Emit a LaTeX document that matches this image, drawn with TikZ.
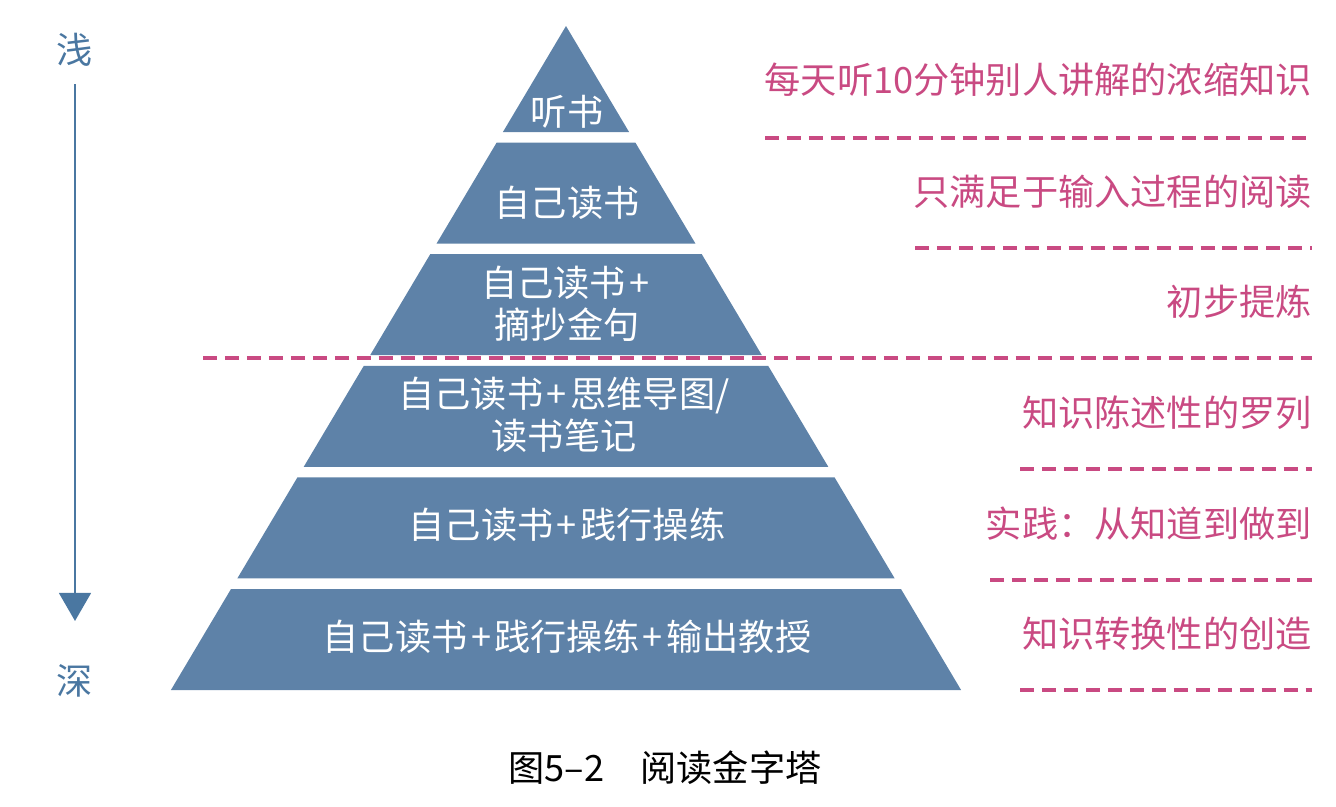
\documentclass[tikz,border=0pt]{standalone}
\usepackage{fontspec}
\setmainfont{Noto Sans CJK SC}
\usepackage{tikz}
\usetikzlibrary{arrows.meta}
\definecolor{pyrblue}{HTML}{5E82A8}
\definecolor{axisblue}{HTML}{4A77A1}
\definecolor{notepink}{HTML}{C94A82}
\newcommand{\pl}{\kern2pt+\kern2pt}

\begin{document}
\begin{tikzpicture}[x=0.02cm,y=-0.02cm,
  layer/.style={fill=pyrblue},
  lyrtext/.style={text=white,font=\fontsize{20.6}{24}\selectfont,align=center},
  notetext/.style={text=notepink,font=\fontsize{20.6}{24}\selectfont,anchor=east,inner sep=0pt},
  noteline/.style={notepink,line width=2pt,dash pattern=on 8pt off 4.5pt},
  depthtext/.style={text=axisblue,font=\fontsize{20.6}{24}\selectfont},
  deptharrow/.style={axisblue,line width=1.7pt,-{Triangle[length=16pt,width=18pt]}}]
\useasboundingbox (0,0) rectangle (1336,806);
\foreach \ya/\yb in {26/132,142.6/243.6,254.2/355.2,365.8/466.8,477.4/578.4,589/690}
  \fill[layer] ({566-(\ya-26)*0.595},\ya) -- ({566+(\ya-26)*0.595},\ya)
    -- ({566+(\yb-26)*0.595},\yb) -- ({566-(\yb-26)*0.595},\yb) -- cycle;
\node[lyrtext] (lyr1) at (567,112) {听书};
\node[lyrtext] (lyr2) at (567,203) {自己读书};
\node[lyrtext] (lyr3) at (567,304) {自己读书\pl{}\\摘抄金句};
\node[lyrtext] (lyr4) at (564,415) {自己读书\pl{}思维导图/\\读书笔记};
\node[lyrtext] (lyr5) at (567,525) {自己读书\pl{}践行操练};
\node[lyrtext] (lyr6) at (567,637) {自己读书\pl{}践行操练\pl{}输出教授};
\node[notetext] (note1) at (1312,80) {每天听10分钟别人讲解的浓缩知识};
\node[notetext] (note2) at (1312,192) {只满足于输入过程的阅读};
\node[notetext] (note3) at (1312,302) {初步提炼};
\node[notetext] (note4) at (1312,413) {知识陈述性的罗列};
\node[notetext] (note5) at (1312,524) {实践：从知道到做到};
\node[notetext] (note6) at (1312,634) {知识转换性的创造};
\draw[noteline] (765,138) -- (1312,138);
\draw[noteline] (915,248) -- (1312,248);
\draw[noteline] (203,358) -- (1312,358);
\draw[noteline] (1020,469) -- (1312,469);
\draw[noteline] (990,580) -- (1312,580);
\draw[noteline] (1020,690) -- (1312,690);
\node[depthtext] (shallow) at (75,50) {浅};
\node[depthtext] (deep) at (75,681) {深};
\coordinate (arrowstart) at (75,84);
\coordinate (arrowend) at (75,621);
\draw[deptharrow] (arrowstart) -- (arrowend);
\node[font=\fontsize{20.6}{24}\selectfont] (caption) at (665,768) {图5–2　阅读金字塔};
\end{tikzpicture}
\end{document}
